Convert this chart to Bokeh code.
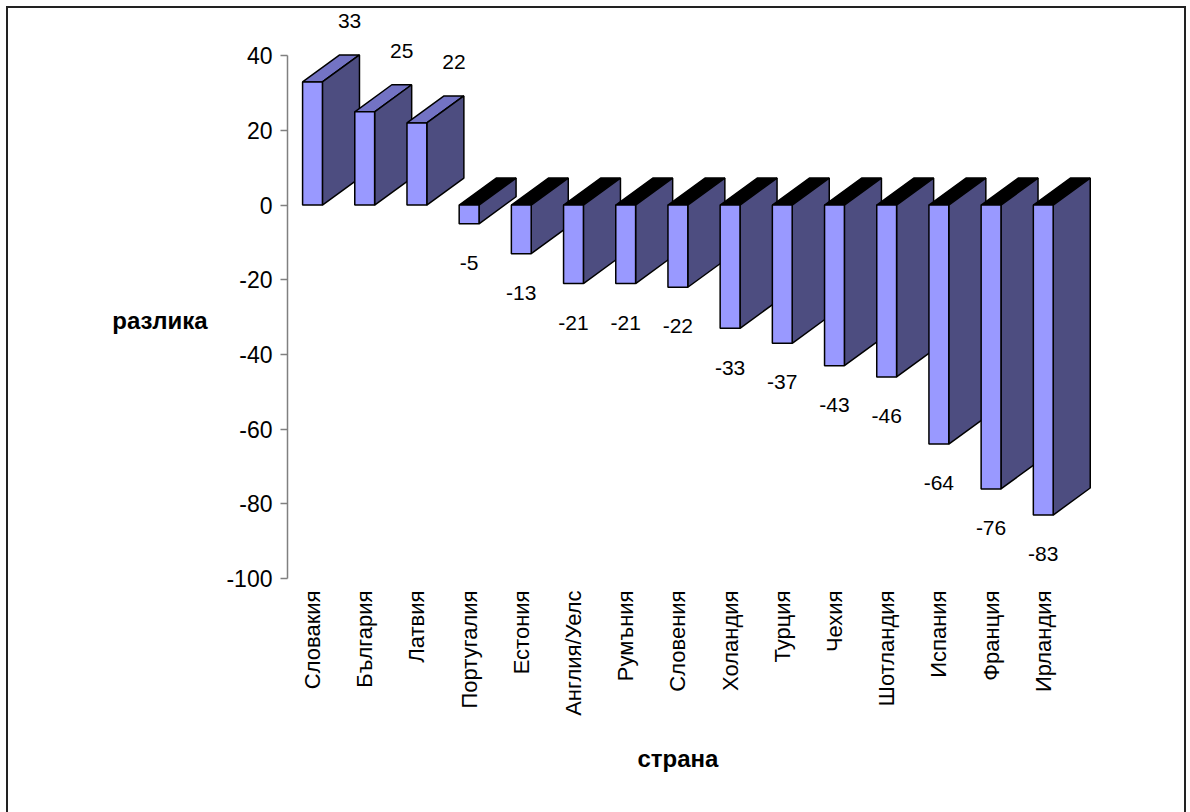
import math
from bokeh.plotting import figure
from bokeh.models import ColumnDataSource, FixedTicker, Range1d, LinearAxis
from bokeh.core.properties import value
from bokeh.embed import file_html
from bokeh.resources import INLINE

# ---- data ----
COUNTRIES = ["Словакия", "България", "Латвия", "Португалия", "Естония",
             "Англия/Уелс", "Румъния", "Словения", "Холандия", "Турция",
             "Чехия", "Шотландия", "Испания", "Франция", "Ирландия"]
DIFFS = [33, 25, 22, -5, -13, -21, -21, -22, -33, -37, -43, -46, -64, -76, -83]
Y_TICKS = [-100, -80, -60, -40, -20, 0, 20, 40]
Y_TITLE = "разлика"
X_TITLE = "страна"

# ---- styling / 3D geometry (data units) ----
HALF_W = 0.19
DX = 0.71
DY = 7.24
FRONT = "#9999FF"
SIDE = "#4D4D80"
TOP_POS = "#7373C4"
TOP_NEG = "#000000"
FONT = "Liberation Sans"

p = figure(width=1190, height=812, output_backend="svg", toolbar_location=None,
           x_range=Range1d(-0.479, 15.48), y_range=Range1d(-100, 54),
           min_border_left=287, min_border_right=70, min_border_top=3,
           min_border_bottom=234)
# chart-area border (left, top, right) painted behind the transparent canvas
line = "linear-gradient(#222222, #222222)"
p.styles = {
    "background": (f"{line} 6px 6px / 2px 806px no-repeat, "
                   f"{line} 6px 6px / 1180px 2px no-repeat, "
                   f"{line} 1184px 6px / 2px 806px no-repeat, white"),
}
p.outline_line_color = None
p.xgrid.visible = False
p.ygrid.visible = False
p.background_fill_color = None
p.border_fill_color = None

# build faces, left to right so later bars overlap earlier sides
xs, ys, colors = [], [], []
for i, v in enumerate(DIFFS):
    xl, xr = i - HALF_W, i + HALF_W
    top, bot = max(v, 0), min(v, 0)
    xs.append([xl, xr, xr + DX, xl + DX])
    ys.append([top, top, top + DY, top + DY])
    colors.append(TOP_POS if v > 0 else TOP_NEG)
    xs.append([xr, xr, xr + DX, xr + DX])
    ys.append([bot, top, top + DY, bot + DY])
    colors.append(SIDE)
    xs.append([xl, xr, xr, xl])
    ys.append([bot, bot, top, top])
    colors.append(FRONT)

src = ColumnDataSource(dict(xs=xs, ys=ys, c=colors))
p.patches("xs", "ys", source=src, fill_color="c", line_color="black", line_width=1.5)

# value labels
lx, ly, lt = [], [], []
for i, v in enumerate(DIFFS):
    if v > 0:
        lx.append(i + DX)
        ly.append(v + DY + 9)
    else:
        lx.append(i)
        ly.append(v - 10.5)
    lt.append(str(v))
p.text(x=lx, y=ly, text=lt, text_font=value(FONT), text_font_size="21px",
       text_align="center", text_baseline="middle", text_color="black")

# y axis
yax = p.yaxis[0]
yax.ticker = FixedTicker(ticks=Y_TICKS)
yax.major_label_overrides = {t: str(t) for t in Y_TICKS}
yax.bounds = (-100, 40)
yax.axis_line_color = "#808080"
yax.axis_line_width = 1.5
yax.major_tick_line_color = "#808080"
yax.major_tick_line_width = 1.5
yax.major_tick_out = 7
yax.major_tick_in = 0
yax.minor_tick_line_color = None
yax.major_label_text_font = FONT
yax.major_label_text_font_size = "23px"
yax.major_label_text_color = "black"
yax.major_label_standoff = 8

# y title as a horizontal label on an extra left axis
ytitle = LinearAxis(ticker=FixedTicker(ticks=[-31]), major_label_overrides={-31: Y_TITLE})
ytitle.axis_line_color = None
ytitle.major_tick_line_color = None
ytitle.minor_tick_line_color = None
ytitle.major_tick_out = 0
ytitle.major_tick_in = 0
ytitle.major_label_text_font = FONT
ytitle.major_label_text_font_size = "24px"
ytitle.major_label_text_font_style = "bold"
ytitle.major_label_text_color = "black"
ytitle.major_label_standoff = 16
p.add_layout(ytitle, "left")

# x axis (category labels)
xax = p.xaxis[0]
xax.ticker = FixedTicker(ticks=list(range(len(COUNTRIES))))
xax.major_label_overrides = {i: c for i, c in enumerate(COUNTRIES)}
xax.major_label_orientation = math.pi / 2
xax.axis_line_color = None
xax.major_tick_line_color = None
xax.minor_tick_line_color = None
xax.major_tick_out = 0
xax.major_tick_in = 0
xax.major_label_text_font = FONT
xax.major_label_text_font_size = "22px"
xax.major_label_text_color = "black"
xax.major_label_standoff = 12

# x title on an extra bottom axis
xtitle = LinearAxis(ticker=FixedTicker(ticks=[7]), major_label_overrides={7: X_TITLE})
xtitle.axis_line_color = None
xtitle.major_tick_line_color = None
xtitle.minor_tick_line_color = None
xtitle.major_tick_out = 0
xtitle.major_tick_in = 0
xtitle.major_label_text_font = FONT
xtitle.major_label_text_font_size = "24px"
xtitle.major_label_text_font_style = "bold"
xtitle.major_label_text_color = "black"
xtitle.major_label_standoff = 26
p.add_layout(xtitle, "below")

open("out.html", "w").write(file_html(p, INLINE))
